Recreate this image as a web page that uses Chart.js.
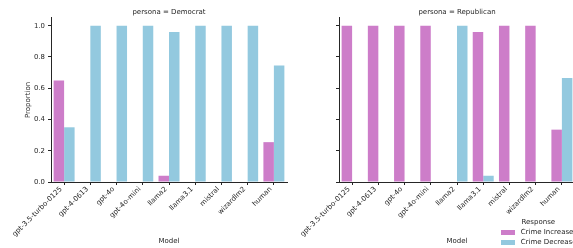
<!DOCTYPE html>
<html>
<head>
<meta charset="utf-8">
<script src="https://cdn.jsdelivr.net/npm/chart.js@4.4.1/dist/chart.umd.min.js"></script>
<style>
  html, body { margin: 0; padding: 0; background: #fff; overflow: hidden; width: 573px; height: 248px; }
  canvas { position: absolute; top: 0; }
  #c1 { left: 0; }
  #c2 { left: 290px; }
  #legend { position: absolute; left: 0; top: 0; font-family: 'DejaVu Sans', sans-serif; font-size: 7px; color: #262626; z-index: 5; }
  .lg { position: absolute; white-space: nowrap; line-height: 1; }
  .patch { position: absolute; width: 14px; height: 4.7px; }
</style>
</head>
<body>
<canvas id="c1" width="290" height="248"></canvas>
<canvas id="c2" width="288" height="248"></canvas>
<div id="legend"></div>
<script>
// ---- data ----
const categories = ['gpt-3.5-turbo-0125','gpt-4-0613','gpt-4o','gpt-4o-mini','llama2','llama3.1','mistral','wizardlm2','human'];
const seriesNames = ['Crime Increase','Crime Decrease'];
const demIncrease = [0.65, 0, 0, 0, 0.04, 0, 0, 0, 0.255];
const demDecrease = [0.35, 1, 1, 1, 0.96, 1, 1, 1, 0.745];
const repIncrease = [1, 1, 1, 1, 0, 0.96, 1, 1, 0.335];
const repDecrease = [0, 0, 0, 0, 1, 0.04, 0, 0, 0.665];
const yTicks = [0, 0.2, 0.4, 0.6, 0.8, 1.0];
const panelTitles = ['persona = Democrat', 'persona = Republican'];
const xTitle = 'Model';
const yTitle = 'Proportion';
const legendTitle = 'Response';

const colors = ['rgb(205,125,201)', 'rgb(147,201,223)'];
const ink = '#262626';
Chart.defaults.font.family = "'DejaVu Sans', sans-serif";
Chart.defaults.color = ink;

function makeChart(id, title, inc, dec, showY, yWidth) {
  return new Chart(document.getElementById(id), {
    type: 'bar',
    data: {
      labels: categories,
      datasets: [
        { label: seriesNames[0], data: inc, backgroundColor: colors[0], borderWidth: 0 },
        { label: seriesNames[1], data: dec, backgroundColor: colors[1], borderWidth: 0 }
      ]
    },
    options: {
      responsive: false,
      animation: false,
      devicePixelRatio: 1,
      layout: { padding: { left: 0, right: 3, top: 0, bottom: 0 } },
      datasets: { bar: { categoryPercentage: 0.8, barPercentage: 1.0 } },
      plugins: {
        legend: { display: false },
        tooltip: { enabled: false },
        title: {
          display: true, text: title, fullSize: false,
          font: { size: 7, weight: 'normal' }, color: ink,
          padding: { top: 7.5, bottom: 2 }
        }
      },
      scales: {
        x: {
          offset: true,
          grid: { display: true, drawOnChartArea: false, drawTicks: true, tickLength: 3, color: ink, offset: false },
          border: { display: true, color: ink, width: 1 },
          ticks: { autoSkip: false, minRotation: 45, maxRotation: 45, font: { size: 7 }, color: ink, padding: 0, labelOffset: -3 },
          title: { display: true, text: xTitle, font: { size: 7 }, color: ink, padding: { top: 0, bottom: 2.8 } },
          afterFit: s => { s.height = 66; }
        },
        y: {
          min: 0, max: 1.05,
          grid: { display: true, drawOnChartArea: false, drawTicks: true, tickLength: 3, color: ink },
          border: { display: true, color: ink, width: 1 },
          afterBuildTicks: s => { s.ticks = yTicks.map(v => ({ value: v })); },
          ticks: {
            font: { size: 6.9 }, color: ink, padding: 3,
            callback: v => showY ? Number(v).toFixed(1) : ''
          },
          title: { display: showY, text: yTitle, font: { size: 7 }, color: ink, padding: { top: 23.8, bottom: 0 } },
          afterFit: s => { s.width = yWidth; }
        }
      }
    }
  });
}

makeChart('c1', panelTitles[0], demIncrease, demDecrease, true, 51);
makeChart('c2', panelTitles[1], repIncrease, repDecrease, false, 49);

// legend (bottom right, partly outside the figure as in the reference)
const lg = document.getElementById('legend');
const t = document.createElement('div');
t.className = 'lg'; t.textContent = legendTitle;
t.style.left = '521.5px'; t.style.top = '218.6px';
lg.appendChild(t);
seriesNames.forEach((n, i) => {
  const yc = 232.3 + i * 10;
  const p = document.createElement('div');
  p.className = 'patch'; p.style.background = colors[i];
  p.style.left = '501px'; p.style.top = (yc - 2.35) + 'px';
  lg.appendChild(p);
  const s = document.createElement('div');
  s.className = 'lg'; s.textContent = n;
  s.style.left = '520.7px'; s.style.top = (yc - 3.7) + 'px';
  lg.appendChild(s);
});
</script>
</body>
</html>
